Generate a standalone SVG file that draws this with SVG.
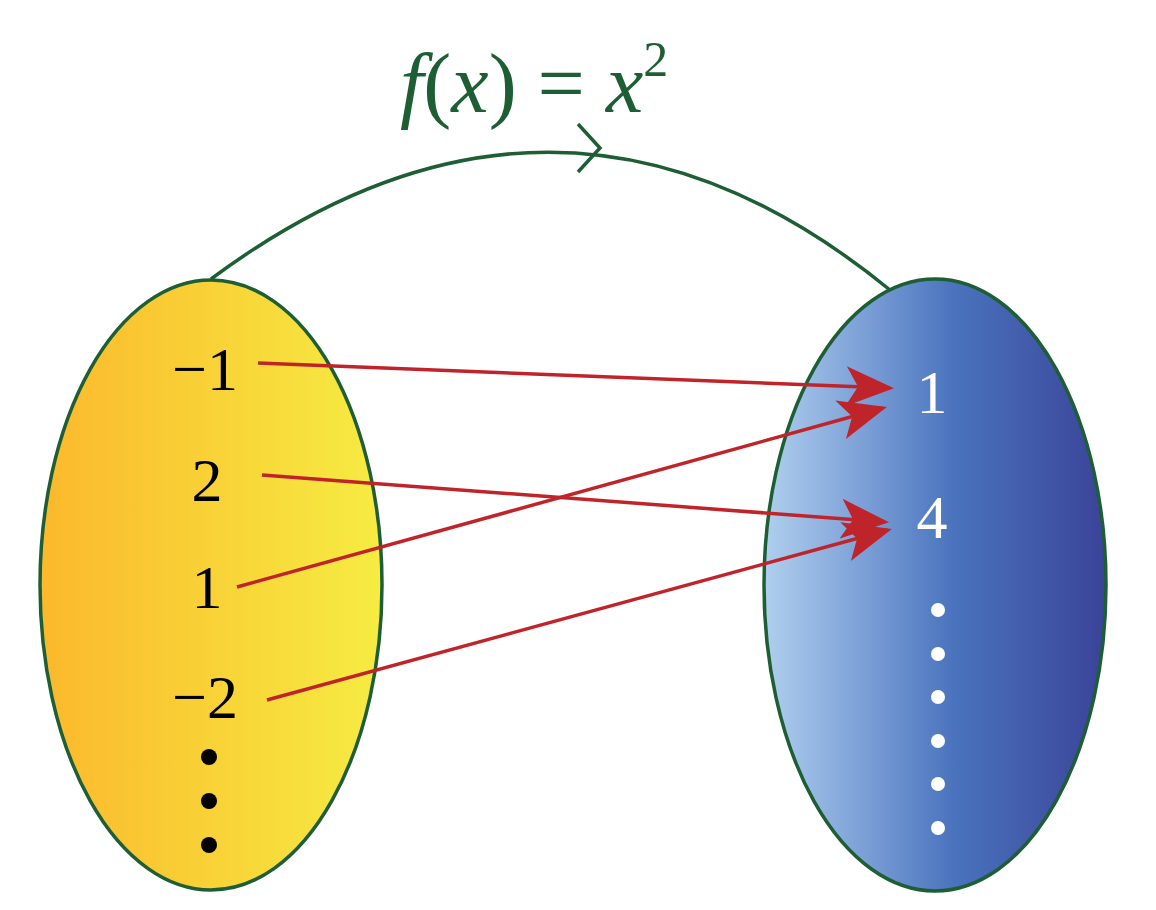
<svg xmlns="http://www.w3.org/2000/svg" width="1156" height="910" viewBox="0 0 1156 910">
<defs>
<linearGradient id="gy" x1="0" x2="1" y1="0" y2="0"><stop offset="0" stop-color="#fbb82c"/><stop offset="1" stop-color="#f6ec42"/></linearGradient>
<linearGradient id="gb" x1="0" x2="1" y1="0" y2="0"><stop offset="0" stop-color="#b0cfee"/><stop offset="0.3" stop-color="#7a9ed6"/><stop offset="0.55" stop-color="#4a74bd"/><stop offset="1" stop-color="#3a4399"/></linearGradient>
<marker id="ah" viewBox="0 0 12 10" refX="11" refY="5" markerWidth="12" markerHeight="10" markerUnits="userSpaceOnUse" orient="auto"><path d="M0,0 L12,5 L0,10 L3,5 Z" fill="#c0242b"/></marker>
<marker id="big" viewBox="0 0 12 10" refX="11" refY="5" markerWidth="48" markerHeight="40" markerUnits="userSpaceOnUse" orient="auto"><path d="M0,0 L12,5 L0,10 L3,5 Z" fill="#c0242b"/></marker>
<style>
.e{stroke:#1e5e34;stroke-width:3.5}
.a{stroke:#c0242b;stroke-width:3.5;fill:none;marker-end:url(#big)}
.t{font-family:"Liberation Serif",serif;font-size:62px;text-anchor:middle}
</style>
</defs>
<g id="connectors">
<path d="M211,279 Q560,20 890,290" fill="none" stroke="#1e5e34" stroke-width="3.5"/>
<path d="M578,124 L600,148 L578,172" fill="none" stroke="#1e5e34" stroke-width="3.5"/>
</g>
<g id="domain"><ellipse cx="211" cy="585" rx="171" ry="305" fill="url(#gy)" class="e"/>
<text class="t" x="205" y="390">−1</text><text class="t" x="207" y="501">2</text><text class="t" x="207" y="608">1</text><text class="t" x="205" y="718">−2</text>
<circle cx="209" cy="757" r="8"/><circle cx="209" cy="801" r="8"/><circle cx="209" cy="845" r="8"/></g>
<g id="codomain"><ellipse cx="935" cy="585" rx="171" ry="306" fill="url(#gb)" class="e"/>
<text class="t" x="932" y="413" fill="#fff">1</text><text class="t" x="932" y="538" fill="#fff">4</text>
<g fill="#fff"><circle cx="938" cy="610" r="7"/><circle cx="938" cy="654" r="7"/><circle cx="938" cy="697" r="7"/><circle cx="938" cy="741" r="7"/><circle cx="938" cy="784" r="7"/><circle cx="938" cy="828" r="7"/></g></g>
<g id="mappings">
<line class="a" x1="258" y1="363" x2="890" y2="388"/>
<line class="a" x1="262" y1="475" x2="885" y2="522"/>
<line class="a" x1="237" y1="587" x2="883" y2="408"/>
<line class="a" x1="267" y1="700" x2="888" y2="530"/>
</g>
<g id="title"><text x="400" y="112" font-family="Liberation Serif,serif" font-style="italic" font-size="84" fill="#1e5e34">f<tspan font-style="normal">(</tspan>x<tspan font-style="normal">) = </tspan>x<tspan font-style="normal" font-size="50" dy="-36">2</tspan></text></g>
</svg>
